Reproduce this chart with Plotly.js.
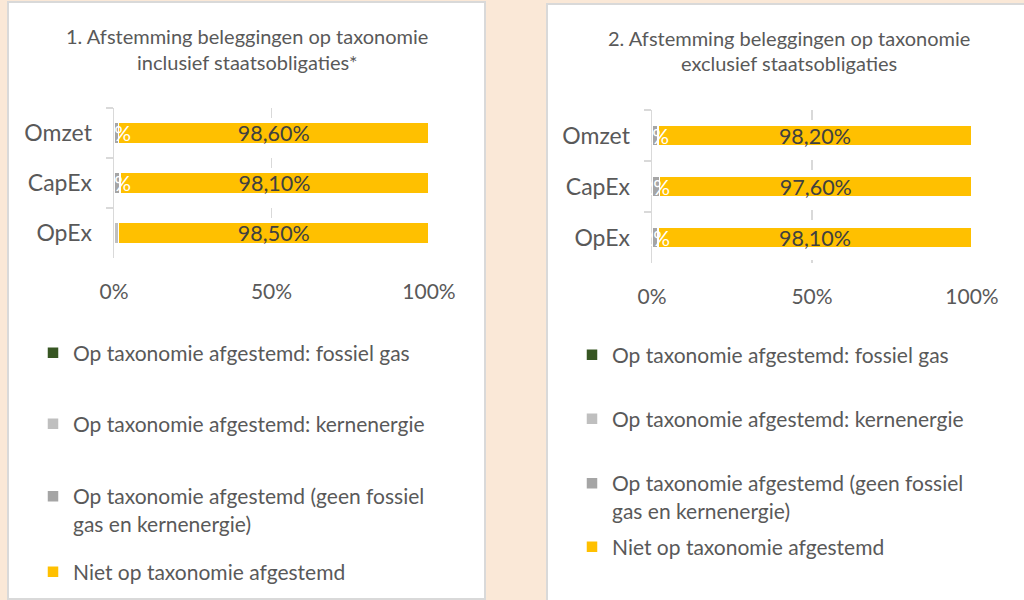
<!DOCTYPE html>
<html>
<head>
<meta charset="utf-8">
<script src="https://cdn.plot.ly/plotly-3.0.1.min.js"></script>
<style>
  html, body { margin: 0; padding: 0; background: #FAE8D7; }
  #chart { width: 1024px; height: 600px; }
</style>
</head>
<body>
<div id="chart"></div>
<script>
// ---- Data ----
const categories = ['Omzet', 'CapEx', 'OpEx'];
const seriesNames = [
  'Op taxonomie afgestemd: fossiel gas',
  'Op taxonomie afgestemd: kernenergie',
  'Op taxonomie afgestemd (geen fossiel<br>gas en kernenergie)',
  'Niet op taxonomie afgestemd'
];
const seriesColors = ['#375623', '#BFBFBF', '#A5A5A5', '#FFC000'];
const tickValues = [0, 50, 100];
const tickLabels = ['0%', '50%', '100%'];

// Chart 1: inclusief staatsobligaties
const incl_fossielGas = [0, 0, 0];
const incl_kernenergie = [0, 0, 1.5];
const incl_geenFossiel = [1.4, 1.9, 0];
const incl_niet = [98.6, 98.1, 98.5];

// Chart 2: exclusief staatsobligaties
const excl_fossielGas = [0, 0, 0];
const excl_kernenergie = [0, 0, 0];
const excl_geenFossiel = [1.8, 2.4, 1.9];
const excl_niet = [98.2, 97.6, 98.1];

const title1 = ['1. Afstemming beleggingen op taxonomie', 'inclusief staatsobligaties*'];
const title2 = ['2. Afstemming beleggingen op taxonomie', 'exclusief staatsobligaties'];

// ---- Helpers ----
const W = 1024, H = 600;
const px = x => x / W;
const py = y => 1 - y / H;
const FONT = 'Lato, "Open Sans", sans-serif';
const TXT = '#595959';

function makeTraces(sets, xa, ya, legendIds) {
  return sets.map((vals, i) => {
    const t = {
      type: 'bar',
      orientation: 'h',
      name: seriesNames[i],
      x: vals,
      y: categories,
      xaxis: xa,
      yaxis: ya,
      legend: legendIds[i],
      marker: { color: seriesColors[i], line: { color: '#FFFFFF', width: 1.5 } },
      hoverinfo: 'x+name',
      textposition: 'none'
    };
    if (i === 3) {
      t.texttemplate = '%{x:.2f}%';
      t.textposition = 'inside';
      t.insidetextanchor = 'middle';
      t.textangle = 0;
      t.constraintext = 'none';
      t.insidetextfont = { family: FONT, size: 21.5, color: '#404040' };
    }
    return t;
  });
}

// small white data labels of the thin segments, placed through the axes
function smallLabelAnnotations(offsets, vals, xref, yref) {
  const out = [];
  vals.forEach((v, k) => {
    if (v > 0) {
      out.push({
        xref: xref, yref: yref,
        x: offsets[k] + v / 2, y: categories[k],
        text: Math.round(v) + '%',
        showarrow: false, xanchor: 'center', yanchor: 'middle',
        font: { family: FONT, size: 21, color: '#FFFFFF' }
      });
    }
  });
  return out;
}
const sumArr = (...arrs) => arrs[0].map((_, k) => arrs.reduce((s, a) => s + a[k], 0));

const traces = [
  ...makeTraces([incl_fossielGas, incl_kernenergie, incl_geenFossiel, incl_niet], 'x', 'y',
    ['legend', 'legend2', 'legend3', 'legend4']),
  ...makeTraces([excl_fossielGas, excl_kernenergie, excl_geenFossiel, excl_niet], 'x2', 'y2',
    ['legend5', 'legend6', 'legend7', 'legend8'])
];

function xAxis(domain, anchor) {
  return {
    domain: domain,
    anchor: anchor,
    range: [0, 100],
    tickmode: 'array',
    tickvals: tickValues,
    ticktext: tickLabels,
    showgrid: true,
    gridcolor: '#D9D9D9',
    gridwidth: 1.5,
    griddash: '10px,40px',
    zeroline: false,
    showline: false,
    ticks: '',
    ticklabelstandoff: 19,
    tickfont: { family: FONT, size: 21, color: TXT },
    fixedrange: true
  };
}
function yAxis(domain, anchor) {
  return {
    domain: domain,
    anchor: anchor,
    type: 'category',
    autorange: 'reversed',
    showline: true,
    linecolor: '#D9D9D9',
    linewidth: 1.5,
    ticks: 'outside',
    ticklen: 7,
    tickwidth: 1.5,
    tickcolor: '#D9D9D9',
    tickson: 'boundaries',
    ticklabelstandoff: 16,
    showgrid: false,
    zeroline: false,
    tickfont: { family: FONT, size: 23, color: TXT },
    fixedrange: true
  };
}

function legendAt(xpx, ypx, valign) {
  return {
    x: px(xpx), y: py(ypx),
    xanchor: 'left', yanchor: 'middle',
    bgcolor: 'rgba(0,0,0,0)',
    borderwidth: 0,
    valign: valign || 'middle',
    font: { family: FONT, size: 21, color: TXT },
    itemclick: false, itemdoubleclick: false
  };
}

function titleAnn(lines, xpx, ys) {
  return lines.map((s, k) => ({
    xref: 'paper', yref: 'paper', x: px(xpx), y: py(ys[k]),
    xanchor: 'center', yanchor: 'middle',
    text: s, showarrow: false,
    font: { family: FONT, size: 20, color: TXT }
  }));
}

const layout = {
  width: W, height: H,
  margin: { l: 0, r: 0, t: 0, b: 0, pad: 0 },
  paper_bgcolor: '#FAE8D7',
  plot_bgcolor: 'rgba(0,0,0,0)',
  separators: ',.',
  barmode: 'stack',
  bargap: 0.58,
  showlegend: true,
  font: { family: FONT, color: TXT },
  xaxis: xAxis([px(114), px(429)], 'y'),
  yaxis: yAxis([py(258), py(108)], 'x'),
  xaxis2: xAxis([px(652), px(972)], 'y2'),
  yaxis2: yAxis([py(263), py(110)], 'x2'),
  legend: legendAt(33, 353),
  legend2: legendAt(33, 424),
  legend3: legendAt(33, 510, 'top'),
  legend4: legendAt(33, 572),
  legend5: legendAt(572, 355),
  legend6: legendAt(572, 419),
  legend7: legendAt(572, 497, 'top'),
  legend8: legendAt(572, 547),
  shapes: [
    { type: 'rect', xref: 'paper', yref: 'paper', layer: 'below',
      x0: px(8), x1: px(485), y0: py(599), y1: py(2),
      fillcolor: '#FFFFFF', line: { color: '#D9D9D9', width: 2 } },
    { type: 'rect', xref: 'paper', yref: 'paper', layer: 'below',
      x0: px(547), x1: px(1034), y0: py(612), y1: py(4),
      fillcolor: '#FFFFFF', line: { color: '#D9D9D9', width: 2 } }
  ],
  annotations: [
    ...titleAnn(title1, 247, [36, 62]),
    ...titleAnn(title2, 789, [38, 63]),
    ...smallLabelAnnotations(sumArr(incl_fossielGas, incl_kernenergie), incl_geenFossiel, 'x', 'y'),
    ...smallLabelAnnotations(sumArr(excl_fossielGas, excl_kernenergie), excl_geenFossiel, 'x2', 'y2')
  ]
};

Plotly.newPlot('chart', traces, layout, { displayModeBar: false, staticPlot: true });
</script>
</body>
</html>
